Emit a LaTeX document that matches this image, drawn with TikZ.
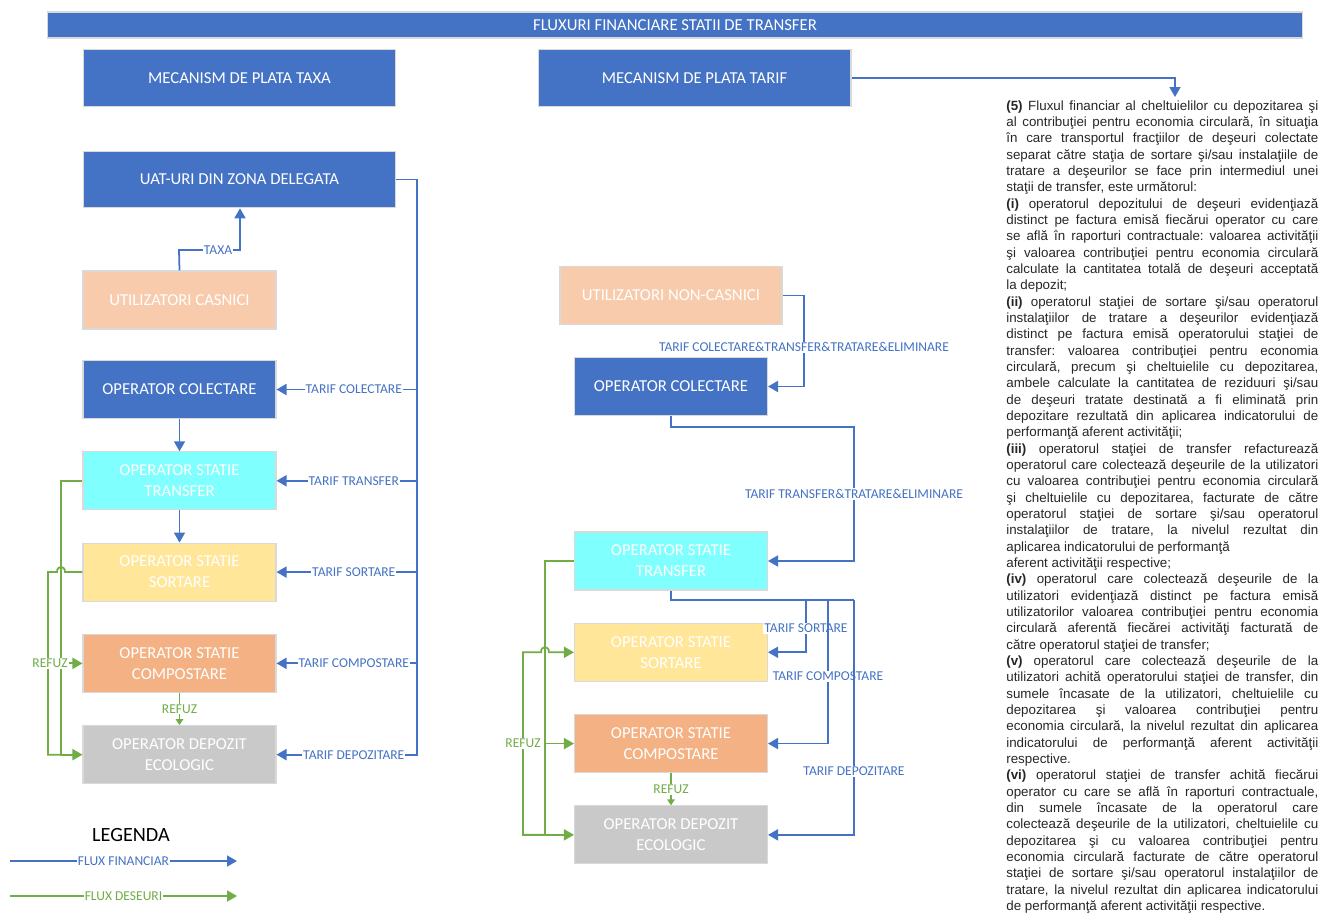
\documentclass[tikz,border=0pt]{standalone}
\usepackage{fontspec}
\setmainfont{Carlito}
\newfontfamily\notefont{Liberation Sans}
\usetikzlibrary{calc,positioning,arrows.meta}
\definecolor{boxblue}{HTML}{4472C4}
\definecolor{flowgreen}{HTML}{70AD47}
\definecolor{peach}{HTML}{F8CBAD}
\definecolor{cyanbox}{HTML}{80FFFF}
\definecolor{yellowbox}{HTML}{FFE699}
\definecolor{orangebox}{HTML}{F4B183}
\definecolor{greybox}{HTML}{C9C9C9}

\begin{document}
\begin{tikzpicture}[x=0.02cm,y=-0.02cm,node distance=0.645cm]

\tikzset{box/.style={draw=black!15,line width=0.6pt,text=white,font=\fontsize{9.5}{12}\selectfont,align=center,inner sep=0pt},
widebox/.style={box,fill=boxblue,minimum width=6.26cm,minimum height=1.13cm},
opbox/.style={box,minimum width=3.86cm,minimum height=1.16cm},
finline/.style={draw=boxblue,line width=1pt},
finflow/.style={finline,-{Triangle[length=2mm,width=2.2mm]}},
wasteline/.style={draw=flowgreen,line width=1pt},
wasteflow/.style={wasteline,-{Triangle[length=2mm,width=2.2mm]}},
refuzflow/.style={wasteline,-{Triangle[length=1.2mm,width=1.5mm]}},
finlabel/.style={fill=white,text=boxblue,font=\fontsize{7.7}{9}\selectfont,inner sep=0.6pt},
wastelabel/.style={finlabel,text=flowgreen}}

\useasboundingbox (0,0) rectangle (1333,914);

% Header
\node[box,fill=boxblue,minimum width=25.12cm,minimum height=0.52cm] (title) at (675,25) {FLUXURI FINANCIARE STATII DE TRANSFER};
\node[widebox] (taxa) at (239.5,78) {MECANISM DE PLATA TAXA};
\node[widebox] (tarif) at (694.5,78) {MECANISM DE PLATA TARIF};

% Taxa column
\node[widebox] (uat) at (239.5,179.5) {UAT-URI DIN ZONA DELEGATA};
\node[opbox,fill=peach] (casnici) at (179.5,300) {UTILIZATORI CASNICI};
\node[opbox,fill=boxblue] (col1) at (179.5,389.5) {OPERATOR COLECTARE};
\node[opbox,fill=cyanbox,below=of col1] (tr1) {OPERATOR STATIE\\TRANSFER};
\node[opbox,fill=yellowbox,below=of tr1] (sort1) {OPERATOR STATIE\\SORTARE};
\node[opbox,fill=orangebox,below=of sort1] (comp1) {OPERATOR STATIE\\COMPOSTARE};
\node[opbox,fill=greybox,below=of comp1] (dep1) {OPERATOR DEPOZIT\\ECOLOGIC};

% Tarif column
\node[opbox,fill=peach,minimum width=4.44cm] (noncas) at (671,295.5) {UTILIZATORI NON-CASNICI};
\node[opbox,fill=boxblue] (col2) at (671,386.5) {OPERATOR COLECTARE};
\node[opbox,fill=cyanbox] (tr2) at (671,561) {OPERATOR STATIE\\TRANSFER};
\node[opbox,fill=yellowbox,below=of tr2] (sort2) {OPERATOR STATIE\\SORTARE};
\node[opbox,fill=orangebox,below=of sort2] (comp2) {OPERATOR STATIE\\COMPOSTARE};
\node[opbox,fill=greybox,below=of comp2] (dep2) {OPERATOR DEPOZIT\\ECOLOGIC};

% helper points
\coordinate (taxaA) at (179,250); \coordinate (taxaB) at (240,250);
\coordinate (busL) at (417,756);
\coordinate (gA) at (61,0); \coordinate (gB) at (48,0);
\coordinate (hA) at (545,0); \coordinate (hB) at (523,0);
\coordinate (fA) at (804,0); \coordinate (tt1) at (854,427);
\coordinate (bS) at (806,600); \coordinate (bC) at (828,600); \coordinate (bD) at (854,600);
\coordinate (topArr) at (1175,97);

% Financial flows, taxa
\draw[finflow] (casnici.north) -- (taxaA) -- node[finlabel,pos=0.64]{TAXA} (taxaB) -- (uat.south -| taxaB);
\draw[finline] (uat.east) -| (busL);
\foreach \n/\t in {col1/TARIF COLECTARE,tr1/TARIF TRANSFER,sort1/TARIF SORTARE,comp1/TARIF COMPOSTARE,dep1/TARIF DEPOZITARE}
  \draw[finflow] (\n.east -| busL) -- node[finlabel,pos=0.45]{\t} (\n.east);
\foreach \a/\b in {col1/tr1,tr1/sort1} \draw[finflow] (\a) -- (\b);

% Waste flows, taxa
\draw[refuzflow] (comp1) -- node[wastelabel]{REFUZ} (dep1);
\draw[wasteflow] (tr1.west) -- (tr1.west -| gA) -- (gA |- dep1.west) -- (dep1.west);
\draw[wasteline] (sort1.west) -- ($(sort1.west -| gA)+(4,0)$) .. controls ($(sort1.west -| gA)+(4,-7)$) and ($(sort1.west -| gA)+(-4,-7)$) .. ($(sort1.west -| gA)+(-4,0)$) -- (sort1.west -| gB) -- (gB |- dep1.west) -- (dep1.west -| gA);
\draw[wasteflow] (comp1.west -| gB) -- node[wastelabel,pos=0.06]{REFUZ} (comp1.west);

% Financial flows, tarif
\draw[finflow] (tarif.east) -| (topArr);
\draw[finflow] (noncas.east) -- (noncas.east -| fA) -- node[finlabel,pos=0.57]{TARIF COLECTARE\&TRANSFER\&TRATARE\&ELIMINARE} (fA |- col2.east) -- (col2.east);
\draw[finflow] (col2.south) |- (tt1) -- node[finlabel,pos=0.5]{TARIF TRANSFER\&TRATARE\&ELIMINARE} (tt1 |- tr2.east) -- (tr2.east);
\draw[finline] (tr2.south) |- (bD);
\draw[finflow] (bS) -- node[finlabel,pos=0.54]{TARIF SORTARE} (bS |- sort2.east) -- (sort2.east);
\draw[finflow] (bC) -- node[finlabel,pos=0.53]{TARIF COMPOSTARE} (bC |- comp2.east) -- (comp2.east);
\draw[finflow] (bD) -- node[finlabel,pos=0.73]{TARIF DEPOZITARE} (bD |- dep2.east) -- (dep2.east);

% Waste flows, tarif
\draw[refuzflow] (comp2) -- node[wastelabel]{REFUZ} (dep2);
\draw[wasteflow] (tr2.west) -- (tr2.west -| hA) -- (hA |- dep2.west) -- (dep2.west);
\draw[wasteflow] (comp2.west -| hA) -- (comp2.west);
\draw[wasteflow] (dep2.west -| hA) -- (dep2.west -| hB) -- node[wastelabel,pos=0.5]{REFUZ} (hB |- sort2.west) -- ($(sort2.west -| hA)+(-4,0)$) .. controls ($(sort2.west -| hA)+(-4,-7)$) and ($(sort2.west -| hA)+(4,-7)$) .. ($(sort2.west -| hA)+(4,0)$) -- (sort2.west);

% Legend
\node[font=\fontsize{11.5}{13}\selectfont] (legenda) at (131,835) {LEGENDA};
\coordinate (lf1) at (10,861); \coordinate (lf2) at (237,861);
\coordinate (lw1) at (10,896); \coordinate (lw2) at (237,896);
\draw[finflow] (lf1) -- node[finlabel]{FLUX FINANCIAR} (lf2);
\draw[wasteflow] (lw1) -- node[wastelabel]{FLUX DESEURI} (lw2);

% Note text
\node[anchor=north west,inner sep=0pt,text width=6.24cm,align=justify,text=black!85,
  font=\notefont\fontsize{7.6}{9.3}\selectfont] (note) at (1006,100) {\tolerance=10000 \parindent=0pt \frenchspacing
\textbf{(5)} Fluxul financiar al cheltuielilor cu depozitarea şi\linebreak
al contribuţiei pentru economia circulară, în situaţia\linebreak
în care transportul fracţiilor de deşeuri colectate\linebreak
separat către staţia de sortare şi/sau instalaţiile de\linebreak
tratare a deşeurilor se face prin intermediul unei\linebreak
staţii de transfer, este următorul:\par
\textbf{(i)} operatorul depozitului de deşeuri evidenţiază\linebreak
distinct pe factura emisă fiecărui operator cu care\linebreak
se află în raporturi contractuale: valoarea activităţii\linebreak
şi valoarea contribuţiei pentru economia circulară\linebreak
calculate la cantitatea totală de deşeuri acceptată\linebreak
la depozit;\par
\textbf{(ii)} operatorul staţiei de sortare şi/sau operatorul\linebreak
instalaţiilor de tratare a deşeurilor evidenţiază\linebreak
distinct pe factura emisă operatorului staţiei de\linebreak
transfer: valoarea contribuţiei pentru economia\linebreak
circulară, precum şi cheltuielile cu depozitarea,\linebreak
ambele calculate la cantitatea de reziduuri şi/sau\linebreak
de deşeuri tratate destinată a fi eliminată prin\linebreak
depozitare rezultată din aplicarea indicatorului de\linebreak
performanţă aferent activităţii;\par
\textbf{(iii)} operatorul staţiei de transfer refacturează\linebreak
operatorul care colectează deşeurile de la utilizatori\linebreak
cu valoarea contribuţiei pentru economia circulară\linebreak
şi cheltuielile cu depozitarea, facturate de către\linebreak
operatorul staţiei de sortare şi/sau operatorul\linebreak
instalaţiilor de tratare, la nivelul rezultat din\linebreak
aplicarea indicatorului de performanţă\newline
aferent activităţii respective;\par
\textbf{(iv)} operatorul care colectează deşeurile de la\linebreak
utilizatori evidenţiază distinct pe factura emisă\linebreak
utilizatorilor valoarea contribuţiei pentru economia\linebreak
circulară aferentă fiecărei activităţi facturată de\linebreak
către operatorul staţiei de transfer;\par
\textbf{(v)} operatorul care colectează deşeurile de la\linebreak
utilizatori achită operatorului staţiei de transfer, din\linebreak
sumele încasate de la utilizatori, cheltuielile cu\linebreak
depozitarea şi valoarea contribuţiei pentru\linebreak
economia circulară, la nivelul rezultat din aplicarea\linebreak
indicatorului de performanţă aferent activităţii\linebreak
respective.\par
\textbf{(vi)} operatorul staţiei de transfer achită fiecărui\linebreak
operator cu care se află în raporturi contractuale,\linebreak
din sumele încasate de la operatorul care\linebreak
colectează deşeurile de la utilizatori, cheltuielile cu\linebreak
depozitarea şi cu valoarea contribuţiei pentru\linebreak
economia circulară facturate de către operatorul\linebreak
staţiei de sortare şi/sau operatorul instalaţiilor de\linebreak
tratare, la nivelul rezultat din aplicarea indicatorului\linebreak
de performanţă aferent activităţii respective.};

\end{tikzpicture}
\end{document}
